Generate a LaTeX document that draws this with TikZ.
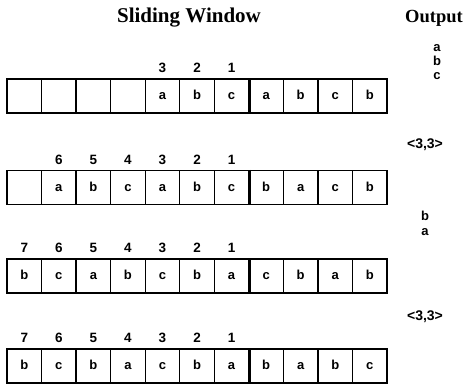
\documentclass[tikz,border=0pt]{standalone}
\usepackage{fontspec}
\setmainfont{Liberation Serif}
\setsansfont{Liberation Sans}
\usetikzlibrary{positioning}
\begin{document}
\begin{tikzpicture}[x=1pt, y=-1pt,
    cell/.style={draw, line width=1.4pt, minimum width=34.55pt, minimum height=34pt,
      inner sep=0pt, text height=7pt, text depth=0pt,
      font=\sffamily\bfseries\fontsize{13}{14}\selectfont},
    num/.style={inner sep=0pt, text height=9.5pt, text depth=0pt,
      font=\sffamily\bfseries\fontsize{13.5}{15}\selectfont},
    outp/.style={inner sep=0pt, text height=7pt, text depth=0pt,
      font=\sffamily\bfseries\fontsize{13}{14}\selectfont},
    head/.style={inner sep=0pt, font=\bfseries\fontsize{21}{23}\selectfont}
  ]
  \useasboundingbox (0,0) rectangle (463,384);
  \node[head] (title) at (189,18) {Sliding Window};
  \node[head, font=\bfseries\fontsize{18.5}{21}\selectfont] (outhead) at (434,18) {Output};
  % window rows
  \foreach \r/\y/\first/\cells in {
      1/96/5/{{},{},{},{},a,b,c,a,b,c,b},
      2/187.5/2/{{},a,b,c,a,b,c,b,a,c,b},
      3/276/1/{b,c,a,b,c,b,a,c,b,a,b},
      4/366/1/{b,c,b,a,c,b,a,b,a,b,c}} {
    \foreach \ch [count=\i] in \cells {
      \node[cell] (c\r-\i) at (7+34.55*\i-17.27,\y) {\ch};
    }
    \draw[line width=3.6pt] (c\r-7.north east) -- (c\r-7.south east);
    \foreach \i in {\first,...,7} {
      \pgfmathtruncatemacro{\lab}{8-\i}
      \node[num] (n\r-\i) at ([yshift=10.5pt]c\r-\i.north) {\lab};
    }
  }
  % output column
  \node[outp] (o1) at (437,48) {a};
  \node[outp] (o2) at (437,62) {b};
  \node[outp] (o3) at (437,76) {c};
  \node[outp, font=\sffamily\bfseries\fontsize{14}{15}\selectfont] (t1) at (425,145) {<3,3>};
  \node[outp] (o4) at (425,217) {b};
  \node[outp] (o5) at (425,232) {a};
  \node[outp, font=\sffamily\bfseries\fontsize{14}{15}\selectfont] (t2) at (425,317) {<3,3>};
\end{tikzpicture}
\end{document}
